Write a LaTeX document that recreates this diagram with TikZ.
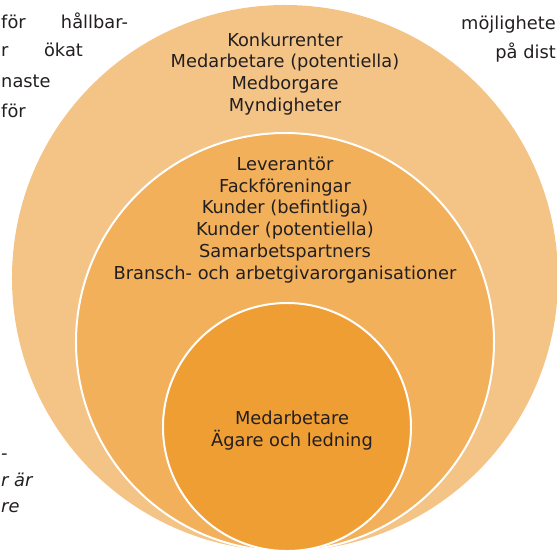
\documentclass[tikz,border=0pt]{standalone}
\usepackage{fontspec}
\usepackage{xcolor}
\setmainfont{DejaVu Sans}
\definecolor{ringout}{HTML}{F4C487}
\definecolor{ringmid}{HTML}{F2B05B}
\definecolor{ringin}{HTML}{EF9E34}
\definecolor{txt}{HTML}{231F20}

\begin{document}
\begin{tikzpicture}[x=0.03cm, y=-0.03cm,
  lbl/.style={align=center, text=txt, font=\fontsize{15.2}{18.7}\selectfont, inner sep=0pt},
  side/.style={text=txt, font=\fontsize{15.2}{18.7}\selectfont, inner sep=0pt},
  sideit/.style={side, font=\fontsize{15.2}{18.7}\selectfont\itshape}]
  \useasboundingbox (0,0) rectangle (557,553);
  \clip (0,0) rectangle (557,553);
  % rings
  \fill[ringout] (285,278) circle (8.19cm);
  \filldraw[color=white, fill=ringmid, line width=1.7pt] (285,342) circle (6.27cm);
  \filldraw[color=white, fill=ringin, line width=1.7pt] (287,427) circle (3.72cm);
  % ring texts
  \node[lbl] (outerlbl) at (285,74) {Konkurrenter\\Medarbetare (potentiella)\\Medborgare\\Myndigheter};
  \node[lbl] (midlbl) at (285,220) {Leverantör\\Fackföreningar\\Kunder (befintliga)\\Kunder (potentiella)\\Samarbetspartners\\Bransch- och arbetgivarorganisationer};
  \node[lbl] (innerlbl) at (292,431) {Medarbetare\\Ägare och ledning};
  % page text round the figure
  \node[side, anchor=base west] (tl1) at (1,28) {\makebox[3.8cm][s]{för hållbar-}};
  \node[side, anchor=base west] (tl2) at (1,56) {\makebox[2.45cm][s]{r ökat}};
  \node[side, anchor=base west] (tl3) at (1,87) {naste};
  \node[side, anchor=base west] (tl4) at (1,117) {för};
  \node[side, anchor=base east] (tr1) at (556,29) {möjlighete};
  \node[side, anchor=base east] (tr2) at (556,58) {på dist};
  \node[sideit, anchor=base west] (bl1) at (1,459) {-};
  \node[sideit, anchor=base west] (bl2) at (1,486) {r är};
  \node[sideit, anchor=base west] (bl3) at (1,512) {re};
\end{tikzpicture}
\end{document}
